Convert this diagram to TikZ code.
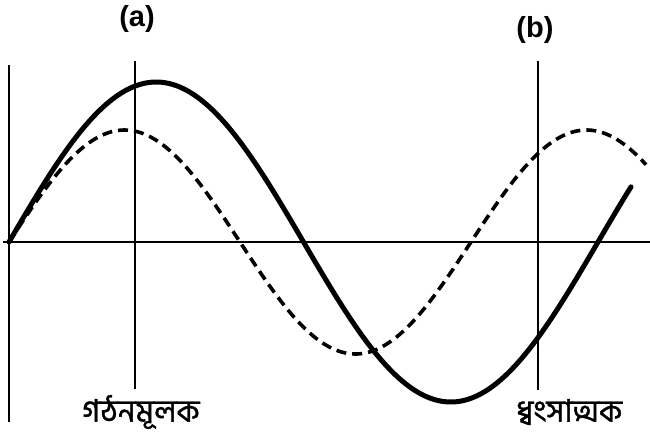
\documentclass[tikz,border=0pt]{standalone}
\usepackage{fontspec}
\setmainfont{Liberation Sans}
\newfontfamily\bnfont[Script=Bengali, FakeBold=1.2]{Hind Siliguri}
\begin{document}
\begin{tikzpicture}[x=1pt,y=-1pt,
  thinline/.style={line width=2pt, black},
  wave/.style={line width=5pt, black, line cap=round},
  dwave/.style={line width=3.6pt, black, dash pattern=on 10pt off 6pt},
  lbl/.style={font=\bfseries\fontsize{29}{32}\selectfont, inner sep=0pt},
  bn/.style={font=\bnfont\fontsize{31}{34}\selectfont, inner sep=0pt}]
\useasboundingbox (0,0) rectangle (650,437);
% axes and markers
\coordinate (yt) at (9,65);
\coordinate (yb) at (9,422);
\coordinate (xl) at (3,242);
\coordinate (xr) at (650,242);
\coordinate (at) at (135,61);
\coordinate (ab) at (135,389);
\coordinate (bt) at (538,61);
\coordinate (bb) at (538,390);
\draw[line width=2.8pt] (yt) -- (yb);
\draw[thinline] (xl) -- (xr);
\draw[thinline] (at) -- (ab);
\draw[thinline] (bt) -- (bb);
% waves
\draw[dwave, domain=9:646, samples=200, smooth] plot (\x, {242-112*sin((\x-9)/462*360)});
\draw[wave, domain=9:631, samples=200, smooth] plot (\x, {242-160*sin((\x-9)/589*360)});
% labels
\node[lbl] (la) at (137,19) {(a)};
\node[lbl] (lb) at (535,30) {(b)};
\node[bn] (ga) at (141,412) {গঠনমূলক};
\node[bn] (dh) at (569,412) {ধ্বংসাত্মক};
\end{tikzpicture}
\end{document}
